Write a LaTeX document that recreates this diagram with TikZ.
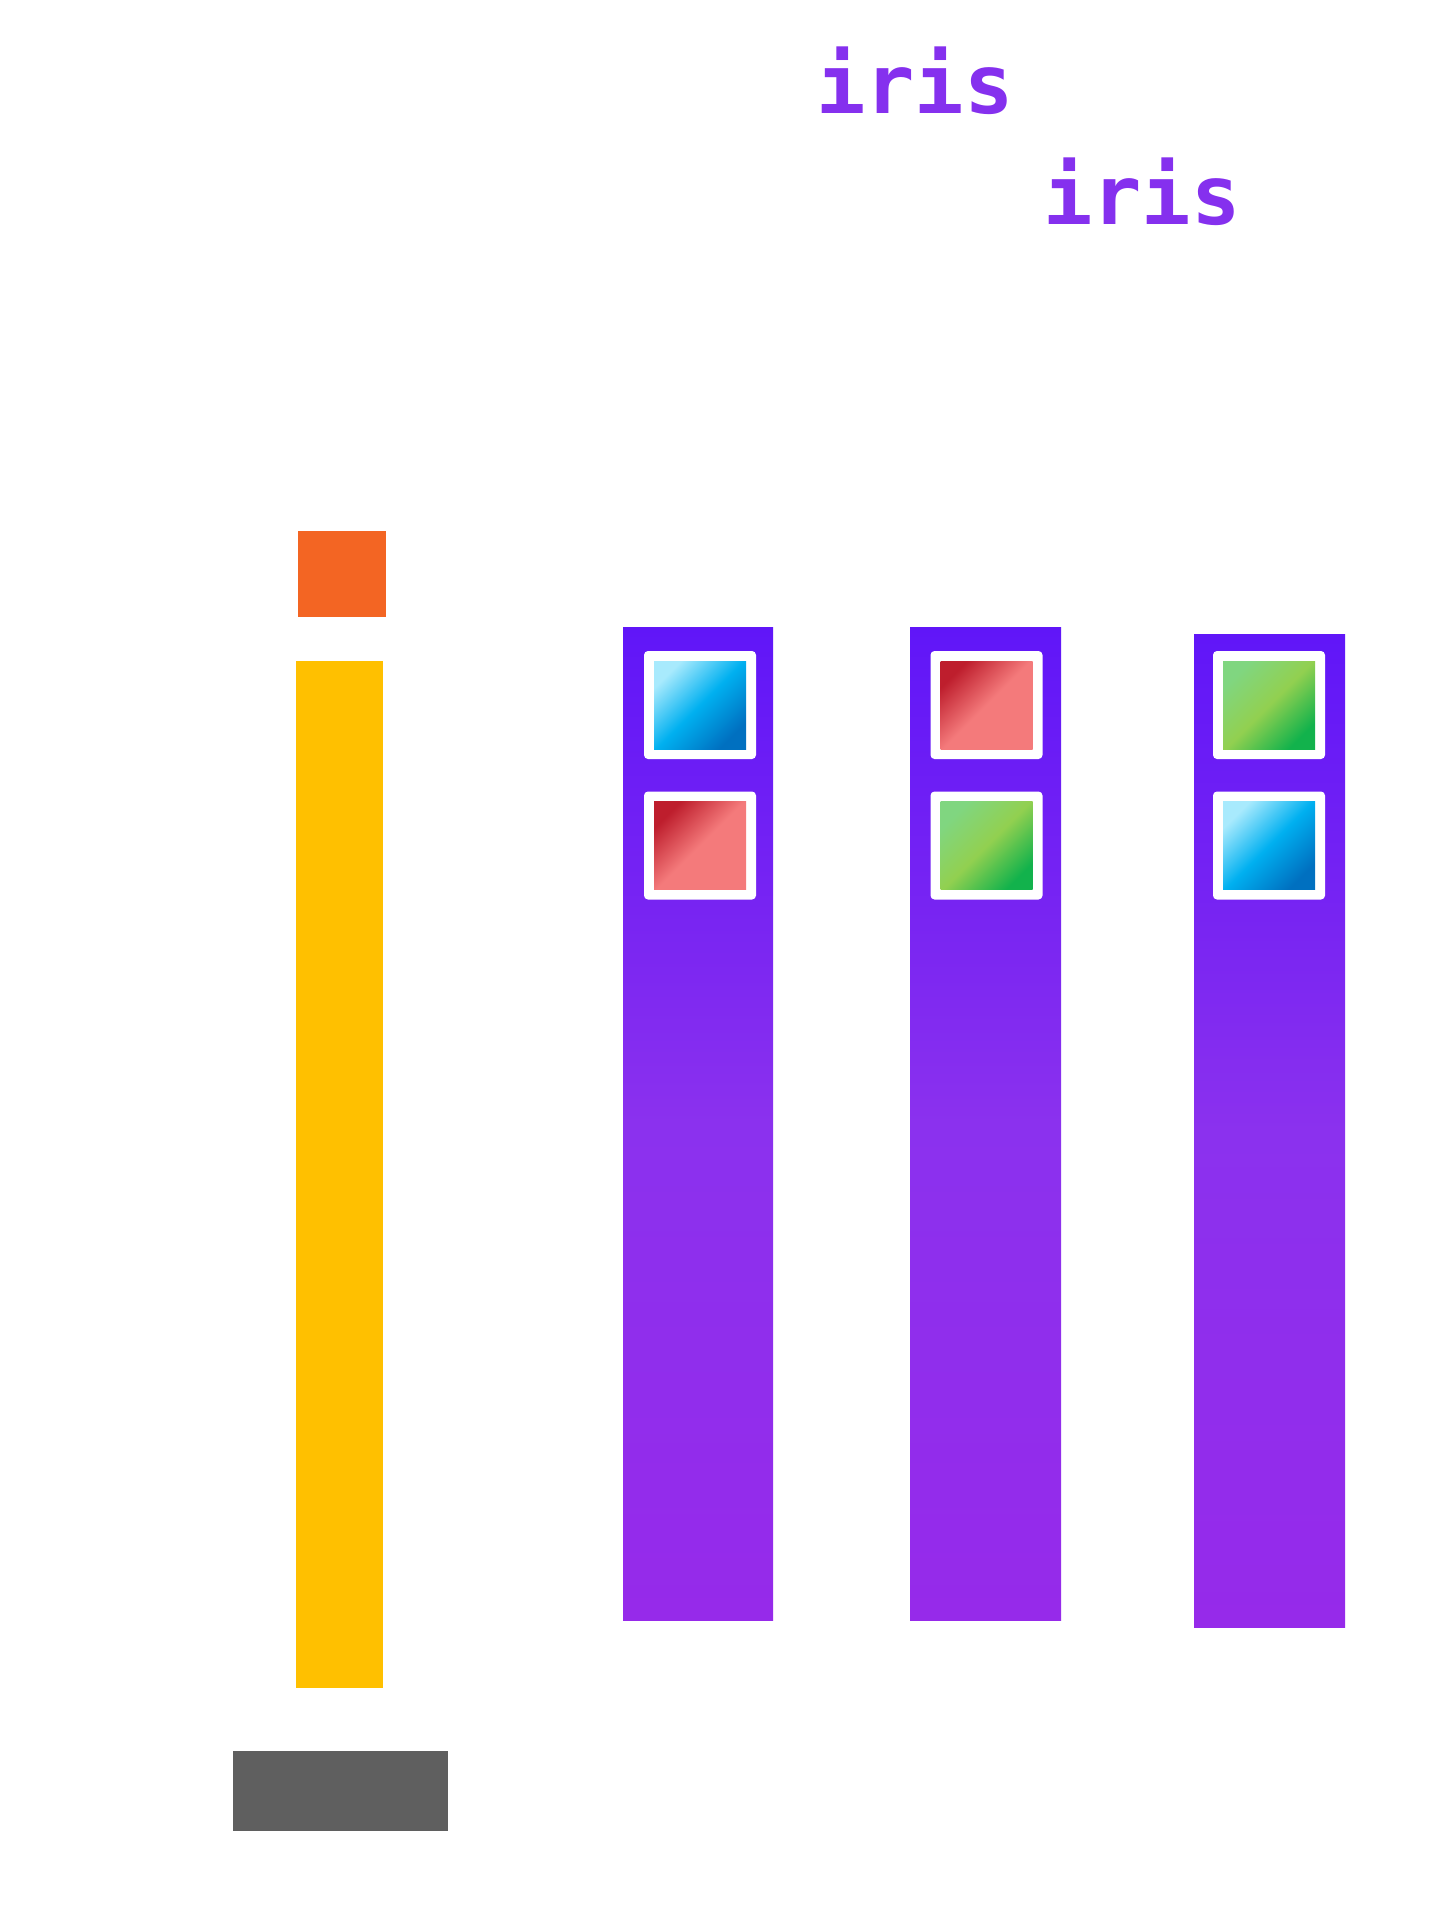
\documentclass[tikz,border=0pt]{standalone}
\usepackage{fontspec}
\newfontfamily\irismono{DejaVu Sans Mono}
\definecolor{colTop}{HTML}{6016F8}
\definecolor{colMidA}{HTML}{7925F2}
\definecolor{colMidB}{HTML}{8B31EE}
\definecolor{colBot}{HTML}{962AEA}
\definecolor{irisC}{HTML}{8530EE}
\definecolor{orangeC}{HTML}{F36523}
\definecolor{yellowC}{HTML}{FFC000}
\definecolor{grayC}{HTML}{5F5F5F}
\definecolor{blA}{HTML}{A8EAFD}
\definecolor{blB}{HTML}{00B0F0}
\definecolor{blC}{HTML}{0070C0}
\definecolor{rdA}{HTML}{BE1E2D}
\definecolor{rdB}{HTML}{F47A7B}
\definecolor{gnA}{HTML}{80D680}
\definecolor{gnB}{HTML}{92D050}
\definecolor{gnC}{HTML}{12B24C}
\pgfdeclarehorizontalshading{blueg}{100bp}{color(0bp)=(blA); color(25bp)=(blA); color(50bp)=(blB); color(75bp)=(blC); color(100bp)=(blC)}
\pgfdeclarehorizontalshading{redg}{100bp}{color(0bp)=(rdA); color(25bp)=(rdA); color(50bp)=(rdB); color(100bp)=(rdB)}
\pgfdeclarehorizontalshading{greeng}{100bp}{color(0bp)=(gnA); color(25bp)=(gnA); color(50bp)=(gnB); color(75bp)=(gnC); color(100bp)=(gnC)}
\pgfdeclareverticalshading{colg}{100bp}{color(0bp)=(colBot); color(25bp)=(colBot); color(50bp)=(colMidB); color(60bp)=(colMidA); color(75bp)=(colTop); color(100bp)=(colTop)}
\tikzset{
  box/.style={rectangle, inner sep=0pt, outer sep=0pt, draw=none},
  column/.style={box, shading=colg, minimum width=#1, minimum height=993},
  frame/.style={box, fill=white, rounded corners=4, minimum width=112, minimum height=108},
  tile/.style={box, minimum width=92, minimum height=88, shading=#1, shading angle=-45},
  iristext/.style={inner sep=0pt, outer sep=0pt, anchor=base west, text=irisC, font=\irismono\bfseries\fontsize{82}{82}\selectfont}
}
\begin{document}
\begin{tikzpicture}[x=1pt,y=-1pt]
\useasboundingbox (0,0) rectangle (1444,1913);
% labels
\node[iristext] (t1) at (816,114) {iris};
\node[iristext] (t2) at (1043,224) {iris};
% left stack
\node[box, fill=orangeC, minimum width=88, minimum height=86] (orange) at (342,574) {};
\node[box, fill=yellowC, minimum width=87, minimum height=1027] (yellow) at (339.5,1174.5) {};
\node[box, fill=grayC, minimum width=215, minimum height=80] (gray) at (340.5,1791) {};
% columns
\node[column=150] (c1) at (698,1123.5) {};
\node[column=151] (c2) at (985.5,1123.5) {};
\node[column=151] (c3) at (1269.5,1130.5) {};
% column 1 tiles
\node[frame] (f11) at (700,705) {};
\node[tile=blueg] (s11) at (700,705) {};
\node[frame] (f12) at (700,845.5) {};
\node[tile=redg] (s12) at (700,845.5) {};
% column 2 tiles
\node[frame] (f21) at (986.5,705) {};
\node[tile=redg] (s21) at (986.5,705) {};
\node[frame] (f22) at (986.5,845.5) {};
\node[tile=greeng] (s22) at (986.5,845.5) {};
% column 3 tiles
\node[frame] (f31) at (1269,705) {};
\node[tile=greeng] (s31) at (1269,705) {};
\node[frame] (f32) at (1269,845.5) {};
\node[tile=blueg] (s32) at (1269,845.5) {};
\end{tikzpicture}
\end{document}
